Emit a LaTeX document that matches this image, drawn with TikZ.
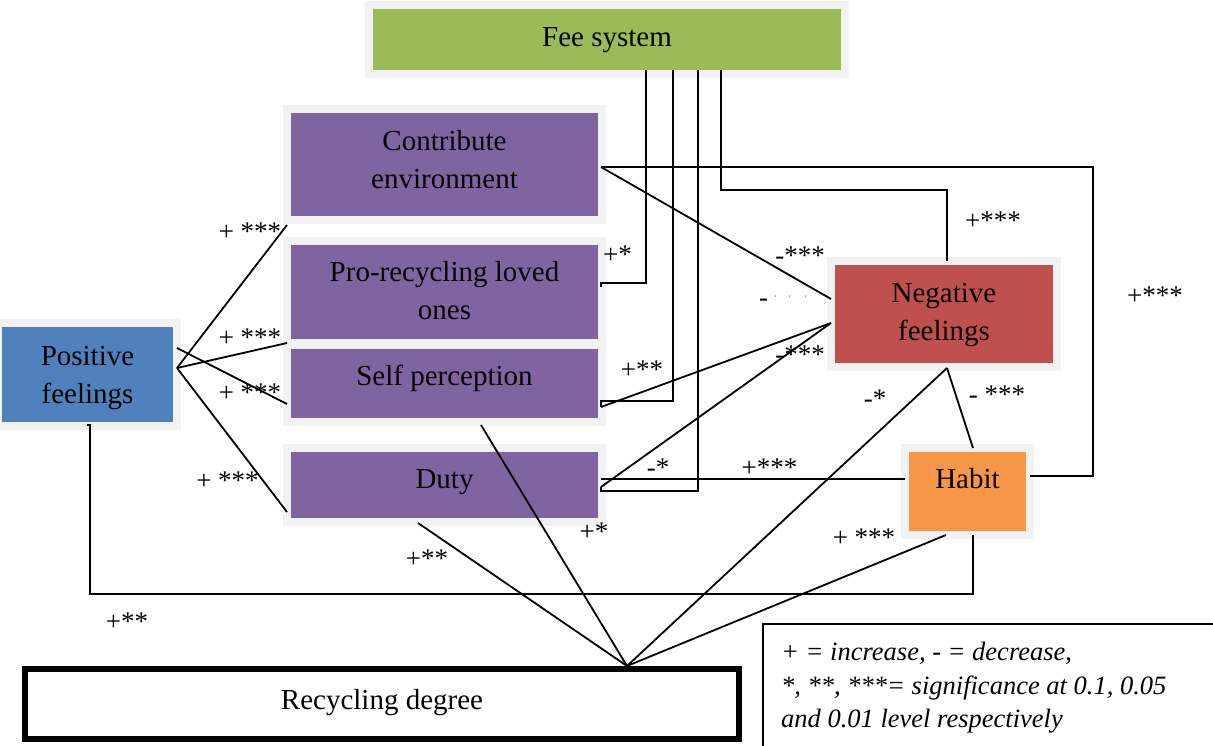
\documentclass[tikz,border=0pt]{standalone}
\usepackage{fontspec}
\setmainfont{Liberation Serif}
\usetikzlibrary{calc}
\definecolor{boxgray}{HTML}{F2F2F2}
\definecolor{feegreen}{HTML}{9BBB59}
\definecolor{facpurple}{HTML}{8064A2}
\definecolor{posblue}{HTML}{4F81BD}
\definecolor{negred}{HTML}{C0504D}
\definecolor{habitorange}{HTML}{F79646}
\begin{document}
\begin{tikzpicture}[x=1pt,y=-1pt,
  box/.style={draw=boxgray, line width=8pt, inner sep=0pt, outer sep=0pt, align=center, font=\fontsize{29}{38}\selectfont},
  conn/.style={draw=black, line width=1.8pt},
  sig/.style={font=\fontsize{27}{30}\selectfont, inner sep=0pt},
  legendtext/.style={font=\itshape\fontsize{26.5}{33.5}\selectfont, inner sep=0pt, align=left}
  ]
\useasboundingbox (0,0) rectangle (1213,746);

% boxes
\node[box, fill=feegreen, minimum width=476pt, minimum height=69pt, text height=19.2pt, text depth=5.3pt] (fee) at (607,39.5) {Fee system};
\node[box, fill=facpurple, minimum width=315pt, minimum height=111pt, text height=57.8pt, text depth=10pt] (contrib) at (444.5,164.5) {Contribute\\environment};
\node[box, fill=facpurple, minimum width=315pt, minimum height=102pt, text height=57.8pt, text depth=2pt] (prolov) at (444.5,292) {Pro-recycling loved\\ones};
\node[box, fill=facpurple, minimum width=315pt, minimum height=77pt, text height=19.8pt, text depth=15.3pt] (self) at (444.5,383.5) {Self perception};
\node[box, fill=facpurple, minimum width=315pt, minimum height=74pt, text height=19.2pt, text depth=12.3pt] (duty) at (444.5,485) {Duty};
\node[box, fill=posblue, minimum width=179pt, minimum height=103pt, text height=63.8pt, text depth=6.3pt] (pos) at (87.5,374.5) {Positive\\feelings};
\node[box, fill=negred, minimum width=226pt, minimum height=106pt, text height=59.8pt, text depth=6.3pt] (neg) at (944,314) {Negative\\feelings};
\node[box, fill=habitorange, minimum width=125pt, minimum height=87pt, text height=19.8pt, text depth=25pt] (habit) at (967.5,491.5) {Habit};
\node[draw=black, line width=6pt, inner sep=0pt, outer sep=0pt, minimum width=714pt, minimum height=70pt, font=\fontsize{29}{38}\selectfont, text height=19.8pt, text depth=8.3pt] (recyc) at (382,704) {Recycling degree};

\coordinate (R) at ($(recyc.north)+(245,-3)$);

% positive feelings
\draw[conn] ($(pos.east)+(0,-6.5)$) -- ($(contrib.south west)+(0,5)$);
\draw[conn] ($(pos.east)+(0,-6.5)$) -- (prolov.south west);
\draw[conn] ($(pos.east)+(0,-6.5)$) -- ($(duty.south west)+(0,-10)$);
\draw[conn] ($(pos.east)+(0,-26.5)$) -- ($(self.west)+(0,20.5)$);
\draw[conn] ($(pos.south)+(-0.5,-1)$) -- ++(3,0) |- ($(habit.south)+(5.5,59)$) -- ($(habit.south)+(5.5,0)$);

% fee system
\draw[conn] ($(fee.south)+(39,-4)$) |- ($(prolov.east)+(-1,-9)$) -- ++(0,4);
\draw[conn] ($(fee.south)+(66,-4)$) |- ($(self.east)+(-1,17.5)$) -- ($(self.east)+(-1,23.5)$);
\draw[conn] ($(fee.south)+(91,-4)$) |- ($(duty.east)+(-1,6)$) -- ($(duty.east)+(-1,2)$);
\draw[conn] ($(fee.south)+(114,-4)$) |- ($(neg.north)+(3,-71)$) -- ($(neg.north)+(3,0)$);

% to negative feelings / habit
\draw[conn] ($(contrib.east)+(-1,2.5)$) -- ($(neg.west)+(0,-15)$);
\draw[conn] ($(contrib.east)+(-1,2.5)$) -| ($(habit.east)+(63,-15.5)$) -- ($(habit.east)+(0,-15.5)$);
\draw[conn] ($(self.east)+(-1,23.5)$) -- ($(neg.west)+(0,9)$);
\draw[conn] ($(duty.east)+(-1,2)$) -- ($(neg.west)+(0,9)$);
\draw[conn] ($(duty.east)+(-1,-6)$) -- ($(habit.west)+(0,-12.5)$);
\draw[conn] ($(neg.south)+(3,1)$) -- ($(habit.north)+(5.5,0)$);

% to recycling degree
\draw[conn] ($(neg.south)+(3,1)$) -- (R);
\draw[conn] ($(habit.south)+(-21.5,0)$) -- (R);
\draw[conn] ($(duty.south)+(-26.5,1)$) -- (R);
\draw[conn] ($(self.south)+(36.5,3)$) -- (R);

% labels
\node[sig] (l1) at (250,232) {+ ***};
\node[sig] (l2) at (250,337.5) {+ ***};
\node[sig] (l3) at (250,392.5) {+ ***};
\node[sig] (l4) at (227.5,481) {+ ***};
\node[sig] (l5) at (617.5,255) {+*};
\node[sig] (l6) at (800,255.5) {-***};
\node[sig, anchor=base west] (l7) at (759,306) {-\hspace{6pt}\raisebox{7pt}{\fontsize{9}{9}\selectfont ·\hspace{11pt}·\hspace{13pt}·}};
\node[sig] (l8) at (800,355) {-***};
\node[sig] (l9) at (642,370) {+**};
\node[sig] (l10) at (658,467.5) {-*};
\node[sig] (l11) at (769.5,467.5) {+***};
\node[sig] (l12) at (993,221) {+***};
\node[sig] (l13) at (1155,296) {+***};
\node[sig] (l14) at (997,395) {- ***};
\node[sig] (l15) at (875,399) {-*};
\node[sig] (l16) at (864,537.5) {+ ***};
\node[sig] (l17) at (594,532) {+*};
\node[sig] (l18) at (427,559) {+**};
\node[sig] (l19) at (127,622) {+**};

% legend
\coordinate (legA) at (763,752);
\coordinate (legB) at (1220,624);
\draw[conn] (legA) |- (legB);
\node[legendtext, anchor=north west] (legend) at (781,642) {+ = increase, - = decrease,\\*, **, ***= significance at 0.1, 0.05\\and 0.01 level respectively};
\end{tikzpicture}
\end{document}
